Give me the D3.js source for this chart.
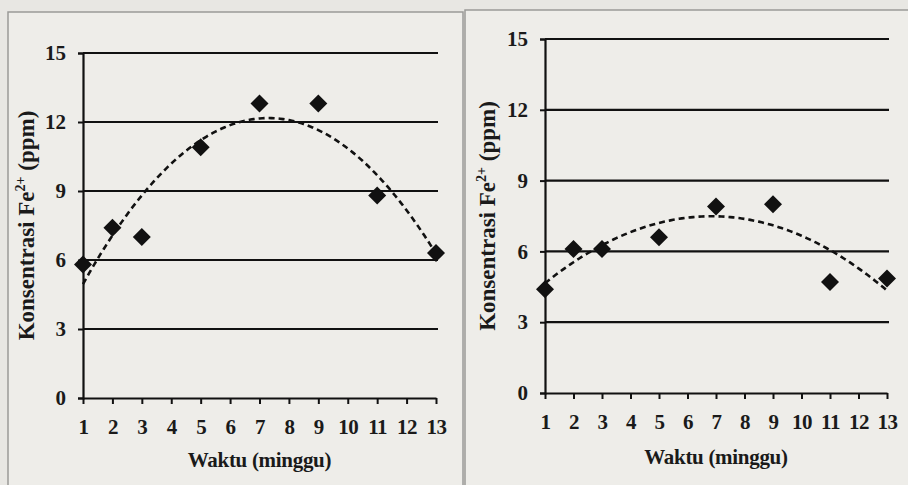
<!DOCTYPE html>
<html lang="en">

<head>
    <meta charset="UTF-8">
    <title>Konsentrasi Fe2+</title>
    <script src="https://cdnjs.cloudflare.com/ajax/libs/d3/7.8.5/d3.min.js"></script>
    <style>
        body { margin: 0; background: #e8e7e3; }
    </style>
</head>

<body>
    <div id="chart"></div>
    <script>
        // data
        const weeks = [1, 2, 3, 5, 7, 9, 11, 13]
        const feLeft = [5.8, 7.4, 7.0, 10.9, 12.8, 12.8, 8.8, 6.3]
        const feRight = [4.4, 6.1, 6.1, 6.6, 7.9, 8.0, 4.7, 4.85]
        const xTicks = d3.range(1, 14)
        const yTicks = [0, 3, 6, 9, 12, 15]
        const xTitle = 'Waktu (minggu)'

        const serif = '"Liberation Serif"'

        const svg = d3.select('#chart')
            .append('svg')
            .attr('width', 908)
            .attr('height', 485)

        // panel frames
        svg.append('rect')
            .attr('x', 8).attr('y', 12).attr('width', 455).attr('height', 480)
            .attr('fill', '#eeede9').attr('stroke', '#9a9a98').attr('stroke-width', 1.5)
        svg.append('rect')
            .attr('x', 465).attr('y', 10).attr('width', 460).attr('height', 480)
            .attr('fill', '#eeede9').attr('stroke', '#9a9a98').attr('stroke-width', 1.5)

        // least squares quadratic, like the excel trendline
        function quadFit(xs, ys) {
            let s = [0, 0, 0, 0, 0], t = [0, 0, 0]
            xs.forEach(function (x, i) {
                for (let k = 0; k < 5; k++) s[k] += Math.pow(x, k)
                for (let k = 0; k < 3; k++) t[k] += ys[i] * Math.pow(x, k)
            })
            const m = [[s[0], s[1], s[2], t[0]], [s[1], s[2], s[3], t[1]], [s[2], s[3], s[4], t[2]]]
            for (let i = 0; i < 3; i++) {
                for (let j = i + 1; j < 3; j++) {
                    const f = m[j][i] / m[i][i]
                    for (let k = i; k < 4; k++) m[j][k] -= f * m[i][k]
                }
            }
            const c = [0, 0, 0]
            for (let i = 2; i >= 0; i--) {
                let v = m[i][3]
                for (let k = i + 1; k < 3; k++) v -= m[i][k] * c[k]
                c[i] = v / m[i][i]
            }
            return function (x) { return c[0] + c[1] * x + c[2] * x * x }
        }

        function drawPanel(p, values) {
            const g = svg.append('g')
            const x = d3.scaleLinear().domain([1, 13]).range([p.left, p.right])
            const y = d3.scaleLinear().domain([0, 15]).range([p.bottom, p.top])

            // horizontal grid
            g.selectAll('.grid')
                .data(yTicks.filter(d => d > 0))
                .enter()
                .append('line')
                .attr('x1', p.left).attr('x2', p.right + 2)
                .attr('y1', d => y(d)).attr('y2', d => y(d))
                .attr('stroke', '#111').attr('stroke-width', 2.2)

            const yAxis = g.append('g')
                .attr('transform', `translate(${p.left},0)`)
                .call(d3.axisLeft(y).tickValues(yTicks).tickSize(5).tickPadding(12))
            const xAxis = g.append('g')
                .attr('transform', `translate(0,${p.bottom})`)
                .call(d3.axisBottom(x).tickValues(xTicks).tickSize(6).tickPadding(15).tickSizeOuter(0))

            ;[yAxis, xAxis].forEach(function (a) {
                a.select('.domain').attr('stroke', '#111').attr('stroke-width', 2.2)
                a.selectAll('.tick line').attr('stroke', '#111').attr('stroke-width', 2)
                a.selectAll('text')
                    .style('font-family', serif)
                    .style('font-weight', 'bold')
                    .style('font-size', '21px')
                    .attr('fill', '#1a1a1a')
            })
            xAxis.selectAll('text').style('letter-spacing', '-0.5px')

            // trendline
            const fit = quadFit(weeks, values)
            const pts = d3.range(1, 13.01, 0.1)
            g.append('path')
                .datum(pts)
                .attr('d', d3.line().x(d => x(d)).y(d => y(fit(d))))
                .attr('fill', 'none')
                .attr('stroke', '#111')
                .attr('stroke-width', 2.6)
                .attr('stroke-dasharray', '6,4')

            // diamonds
            const r = 9
            g.selectAll('.pt')
                .data(values)
                .enter()
                .append('path')
                .attr('d', function (d, i) {
                    const cx = x(weeks[i]), cy = y(d)
                    return `M${cx},${cy - r}L${cx + r},${cy}L${cx},${cy + r}L${cx - r},${cy}Z`
                })
                .attr('fill', '#111')

            // titles
            g.append('text')
                .attr('x', (p.left + p.right) / 2)
                .attr('y', p.xTitleY)
                .attr('text-anchor', 'middle')
                .attr('fill', '#1a1a1a')
                .style('font-family', serif)
                .style('font-weight', 'bold')
                .style('font-size', '21px')
                .style('letter-spacing', '-0.3px')
                .text(xTitle)

            const yt = g.append('text')
                .attr('transform', `translate(${p.yTitleX},${(p.top + p.bottom) / 2}) rotate(-90)`)
                .attr('text-anchor', 'middle')
                .attr('fill', '#1a1a1a')
                .style('font-family', serif)
                .style('font-weight', 'bold')
                .style('font-size', '23px')
            yt.append('tspan').text('Konsentrasi Fe')
            yt.append('tspan').style('font-size', '14px').attr('dy', -9).text('2+')
            yt.append('tspan').attr('dy', 9).text(' (ppm)')
        }

        drawPanel({ left: 83, right: 436, top: 53, bottom: 398, xTitleY: 467, yTitleX: 34 }, feLeft)
        drawPanel({ left: 545, right: 887, top: 39, bottom: 393, xTitleY: 464, yTitleX: 495 }, feRight)
    </script>
</body>

</html>
